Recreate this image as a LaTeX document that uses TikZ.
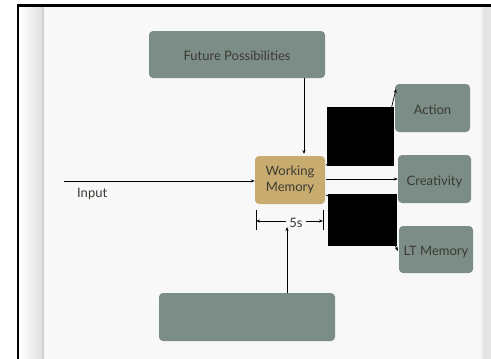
\documentclass[tikz,border=0pt]{standalone}
\usepackage{fontspec}
\setmainfont{Lato}
\usetikzlibrary{arrows.meta}
\definecolor{boxgray}{HTML}{7B8D86}
\definecolor{wmtan}{HTML}{C8AB6E}
\definecolor{txt}{HTML}{3A3B33}
\definecolor{panel}{HTML}{F8F8F8}
\tikzset{
  gbox/.style={draw=none, fill=boxgray, rounded corners=4pt, text=txt, font=\fontsize{13}{14.5}\selectfont, inner sep=0pt, text height=12.5pt, text depth=0pt},
  wmbox/.style={draw=none, fill=wmtan, rounded corners=4pt, text=txt, font=\fontsize{13}{16}\selectfont, inner sep=0pt, align=center},
  conn/.style={draw=black, line width=0.7pt, -{Stealth[length=4pt,width=3pt]}},
  redact/.style={fill=black, draw=none},
  lbl/.style={text=txt, font=\fontsize{13}{14.5}\selectfont, inner sep=0pt}
}
\begin{document}
\begin{tikzpicture}[x=1pt,y=-1pt]
\useasboundingbox (0,0) rectangle (491,359);
\fill[white] (0,0) rectangle (491,359);
% panel
\fill[panel] (18,5.5) rectangle (491,359);
\shade[left color=white, right color=black!12] (20,7) rectangle (42,359);
\fill[black!18] (42,7) rectangle (44,359);
\shade[left color=black!3, right color=black!15] (480,7) rectangle (486,359);
\fill[black!10] (486,7) rectangle (491,359);
\draw[black, line width=2.5pt] (18,359) -- (18,5.5) -- (491,5.5);
% nodes
\node[gbox, minimum width=176pt, minimum height=47pt] (fp) at (237,54.5) {Future Possibilities};
\node[gbox, minimum width=75pt, minimum height=48pt] (act) at (432.5,108) {Action};
\node[gbox, minimum width=73pt, minimum height=48pt] (cre) at (434.5,179) {Creativity};
\node[gbox, minimum width=74pt, minimum height=47pt] (ltm) at (436,249.5) {LT Memory};
\node[wmbox, minimum width=70pt, minimum height=48pt] (wm) at (290,180) {Working\\Memory};
\node[gbox, minimum width=176pt, minimum height=48pt] (bot) at (247,317) {};
\node[lbl, anchor=west] (inp) at (77,193.5) {Input};
\coordinate (inpstart) at (64,181);
\node[lbl] (fs) at (296,223) {5s};
\coordinate (actbend) at (385,135);
\coordinate (ltbend) at (385,225);
% connectors
\draw[conn] (fp.south -| 304,0) -- (304,154);
\draw[conn] (inpstart) -- (wm.west |- 0,181);
\draw[conn] (326,179) -- (cre.west |- 0,179);
\draw[conn] (326,165) -- (actbend) -- (396,89);
\draw[conn] (326,195) -- (ltbend) -- (398,251);
\draw[conn] (bot.north -| 287,0) -- (287,227);
% 5s dimension
\draw[line width=0.7pt] (256,210) -- (256,230);
\draw[line width=0.7pt] (323,210) -- (323,230);
\draw[conn] (fs.west) ++(-3,-2) -- (256,221);
\draw[conn] (fs.east) ++(3,-2) -- (323,221);
% redaction boxes
\fill[redact] (327,107) rectangle (394,166);
\fill[redact] (328,194) rectangle (397,246);
\end{tikzpicture}
\end{document}
